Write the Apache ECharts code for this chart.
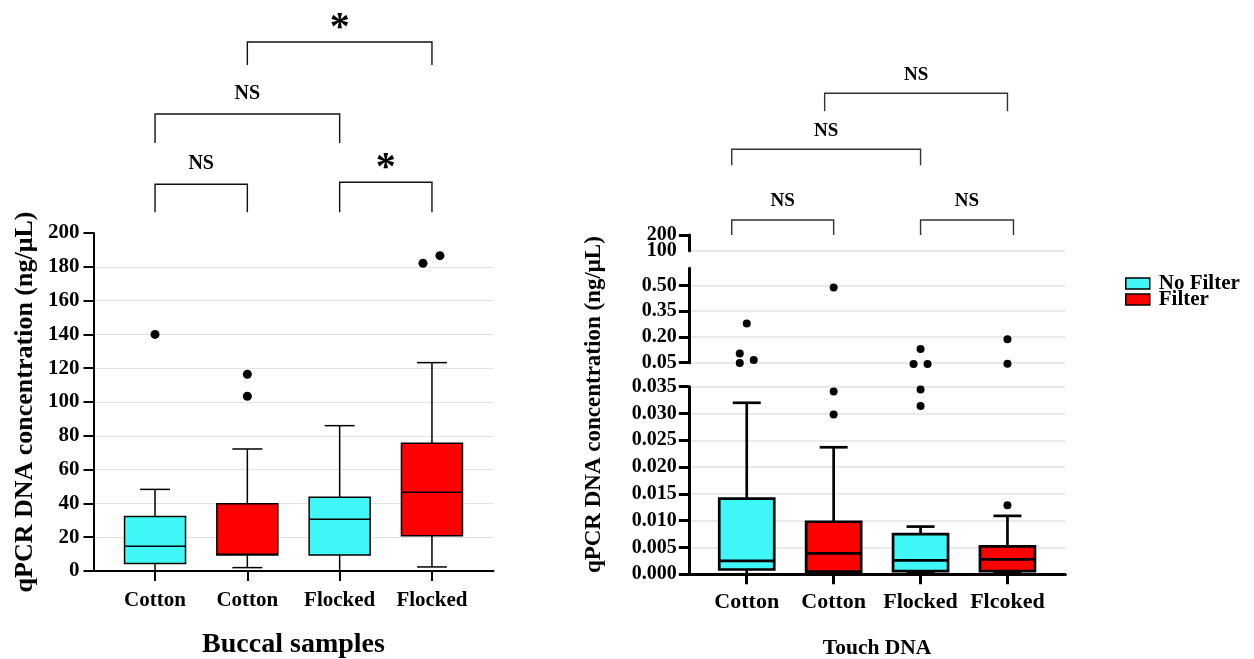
<!DOCTYPE html>
<html>
<head>
<meta charset="utf-8">
<script src="https://cdn.jsdelivr.net/npm/echarts@6/dist/echarts.min.js"></script>
<style>html,body{margin:0;padding:0;background:#fff}#c{width:1254px;height:659px}</style>
</head>
<body>
<div id="c"></div>
<script>
// ---------------- DATA ----------------
const buccalCategories = ['Cotton', 'Cotton', 'Flocked', 'Flocked'];
const touchCategories = ['Cotton', 'Cotton', 'Flocked', 'Flcoked'];
const groupFilter = ['No Filter', 'Filter', 'No Filter', 'Filter'];
// [min, Q1, median, Q3, max]
const buccalStats = [
  [0, 4.5, 14.6, 32.3, 48.3],
  [2.0, 9.5, 9.9, 39.8, 72.2],
  [0, 9.5, 30.6, 43.6, 86.0],
  [2.4, 20.9, 46.6, 75.6, 123.3]
];
const buccalOutliers = [[140], [116.4, 103.4], [], [182.1, 186.6]];
const touchStats = [
  [0, 0.0009, 0.0025, 0.0141, 0.032],
  [0, 0.0005, 0.0039, 0.0098, 0.0237],
  [0.0002, 0.0006, 0.0026, 0.0075, 0.0089],
  [0.0002, 0.0006, 0.0028, 0.0052, 0.0109]
];
const touchOutliers = [
  [0.279, 0.104, 0.0655, 0.048],
  [0.488, 0.0341, 0.0298],
  [0.130, 0.043, 0.043, 0.0345, 0.0314],
  [0.186, 0.044, 0.0129]
];
const buccalSignif = [
  {from: 1, to: 3, label: '*'},
  {from: 0, to: 2, label: 'NS'},
  {from: 0, to: 1, label: 'NS'},
  {from: 2, to: 3, label: '*'}
];
const touchSignif = [
  {from: 1, to: 3, label: 'NS'},
  {from: 0, to: 2, label: 'NS'},
  {from: 0, to: 1, label: 'NS'},
  {from: 2, to: 3, label: 'NS'}
];
const touchTopTicks = [100, 200];   // upper broken-axis segment
const touchBreakLow = 0.04; // values above this are drawn on the 0.05–0.6 segment

// ---------------- STYLE ----------------
const FONT = "'Liberation Serif', 'Times New Roman', serif";
const CYAN = '#3ff7f7', RED = '#ff0000';
const colorOf = g => g === 'Filter' ? RED : CYAN;
const buccalJitter = [[0], [0, 0], [], [-9, 8]];
const touchJitter = [[0, -7, 7, -7], [0, 0, 0], [0, -7, 7, 0, 0], [0, 0, 0]];
const SLOTS = 14;
const pos = i => 3 * i + 2;
function padCats(cats) {
  const a = new Array(SLOTS).fill('');
  cats.forEach((c, i) => a[pos(i)] = c);
  return a;
}
const isSlot = idx => idx % 3 === 2 && idx <= 11;

function boxRenderer(boxW, capW, lw, color) {
  return function (params, api) {
    const x = api.value(0);
    const p = [1, 2, 3, 4, 5].map(d => api.coord([x, api.value(d)]));
    const cx = p[0][0];
    const yMin = p[0][1], yQ1 = p[1][1], yMed = p[2][1], yQ3 = p[3][1], yMax = p[4][1];
    const h = boxW / 2, c = capW / 2;
    const ls = () => ({stroke: '#000', lineWidth: lw});
    return {type: 'group', children: [
      {type: 'line', shape: {x1: cx, y1: yQ3, x2: cx, y2: yMax}, style: ls()},
      {type: 'line', shape: {x1: cx, y1: yQ1, x2: cx, y2: yMin}, style: ls()},
      {type: 'line', shape: {x1: cx - c, y1: yMax, x2: cx + c, y2: yMax}, style: ls()},
      {type: 'line', shape: {x1: cx - c, y1: yMin, x2: cx + c, y2: yMin}, style: ls()},
      {type: 'rect', shape: {x: cx - h, y: yQ3, width: boxW, height: yQ1 - yQ3},
        style: {fill: color, stroke: '#000', lineWidth: lw}},
      {type: 'line', shape: {x1: cx - h, y1: yMed, x2: cx + h, y2: yMed}, style: ls()}
    ]};
  };
}

function boxSeries(stats, groupName, xi, yi, boxW, capW, lw) {
  const data = [];
  stats.forEach((s, i) => { if (groupFilter[i] === groupName) data.push([pos(i)].concat(s)); });
  return {
    type: 'custom', name: groupName, xAxisIndex: xi, yAxisIndex: yi,
    itemStyle: {color: colorOf(groupName), borderColor: '#000', borderWidth: 1.5},
    encode: {x: 0, y: [1, 2, 3, 4, 5]},
    renderItem: boxRenderer(boxW, capW, lw, colorOf(groupName)),
    data: data, z: 3
  };
}

function outlierSeries(outliers, jitter, filterFn, xi, yi, size) {
  const data = [];
  outliers.forEach((arr, i) => arr.forEach((v, k) => {
    if (filterFn(v)) data.push({value: [pos(i), v], symbolOffset: [jitter[i][k] || 0, 0]});
  }));
  return {type: 'scatter', name: 'outliers', xAxisIndex: xi, yAxisIndex: yi, symbolSize: size,
    itemStyle: {color: '#000', opacity: 1}, clip: false, data: data, z: 5, silent: true};
}

const gridBase = {containLabel: false, outerBoundsMode: 'none'};
const L = {left: 93.5, width: 400, top: 233, height: 338};
const R = {left: 688.8, width: 376.6};
const rightLabel = {margin: 12, color: '#000', fontSize: 20, fontWeight: 'bold', fontFamily: FONT,
  showMinLabel: true, showMaxLabel: true, hideOverlap: false};
const topRect = {left: R.left, width: R.width, top: 235, height: 15.7};

const option = {
  animation: false,
  backgroundColor: '#fff',
  textStyle: {fontFamily: FONT},
  grid: [
    Object.assign({}, gridBase, L),
    Object.assign({}, gridBase, {left: R.left, width: R.width, top: 386.7, height: 187.6}),
    Object.assign({}, gridBase, {left: R.left, width: R.width, top: 268.3, height: 94.4}),
    Object.assign({}, gridBase, topRect),
    Object.assign({}, gridBase, {left: R.left, width: R.width, top: 235, height: 339.3}),
    Object.assign({}, gridBase, topRect)
  ],
  xAxis: [
    {gridIndex: 0, type: 'category', boundaryGap: false, data: padCats(buccalCategories),
      axisLine: {lineStyle: {color: '#000', width: 2}},
      axisTick: {interval: isSlot, length: 10, lineStyle: {color: '#000', width: 2}},
      axisLabel: {interval: isSlot, margin: 19, color: '#000', fontSize: 21, fontWeight: 'bold', fontFamily: FONT},
      name: 'Buccal samples', nameLocation: 'middle', nameGap: 60,
      nameTextStyle: {color: '#000', fontSize: 28, fontWeight: 'bold', fontFamily: FONT},
      splitLine: {show: false}},
    {gridIndex: 1, type: 'category', boundaryGap: false, data: padCats(touchCategories),
      axisLine: {lineStyle: {color: '#000', width: 3}},
      axisTick: {interval: isSlot, length: 10, lineStyle: {color: '#000', width: 3}},
      axisLabel: {interval: isSlot, margin: 17, color: '#000', fontSize: 22, fontWeight: 'bold', fontFamily: FONT},
      name: 'Touch DNA', nameLocation: 'middle', nameGap: 63,
      nameTextStyle: {color: '#000', fontSize: 21.5, fontWeight: 'bold', fontFamily: FONT},
      splitLine: {show: false}},
    {gridIndex: 2, type: 'category', boundaryGap: false, data: padCats(touchCategories), show: false},
    {gridIndex: 3, type: 'category', boundaryGap: false, data: padCats(touchCategories), show: false},
    {gridIndex: 4, type: 'category', boundaryGap: false, data: padCats(touchCategories), show: false},
    {gridIndex: 5, type: 'category', boundaryGap: false, data: padCats(touchCategories), show: false}
  ],
  yAxis: [
    {gridIndex: 0, type: 'value', min: 0, max: 200, interval: 20,
      axisLine: {show: true, lineStyle: {color: '#000', width: 2}},
      axisTick: {show: true, length: 10, lineStyle: {color: '#000', width: 2}},
      axisLabel: {margin: 14, color: '#000', fontSize: 21, fontWeight: 'bold', fontFamily: FONT},
      splitLine: {show: true, showMaxLine: false, lineStyle: {color: '#e3e3e3', width: 1.2}},
      name: 'qPCR DNA concentration (ng/μL)', nameLocation: 'middle', nameGap: 55,
      nameTextStyle: {color: '#000', fontSize: 26, fontWeight: 'bold', fontFamily: FONT}},
    {gridIndex: 1, type: 'value', min: 0, max: 0.035, interval: 0.005,
      axisLine: {show: true, lineStyle: {color: '#000', width: 3}},
      axisTick: {show: true, length: 10, lineStyle: {color: '#000', width: 3}},
      axisLabel: Object.assign({}, rightLabel, {formatter: v => v.toFixed(3)}),
      splitLine: {show: true, lineStyle: {color: '#e3e3e3', width: 1.5}}},
    {gridIndex: 2, type: 'value', min: 0.05, max: 0.6, interval: 0.15,
      axisLine: {show: true, lineStyle: {color: '#000', width: 3}},
      axisTick: {show: true, length: 10, lineStyle: {color: '#000', width: 3}},
      axisLabel: Object.assign({}, rightLabel, {showMaxLabel: false, formatter: v => v.toFixed(2)}),
      splitLine: {show: true, showMaxLine: false, lineStyle: {color: '#e3e3e3', width: 1.5}}},
    // upper segment: line, ticks, gridline and the "200" label
    {gridIndex: 3, type: 'value', min: touchTopTicks[0], max: touchTopTicks[1], interval: touchTopTicks[1] - touchTopTicks[0],
      axisLine: {show: true, lineStyle: {color: '#000', width: 3}},
      axisTick: {show: true, length: 10, lineStyle: {color: '#000', width: 3}},
      axisLabel: Object.assign({}, rightLabel, {showMinLabel: false,
        formatter: v => v === touchTopTicks[1] ? String(v) : ''}),
      splitLine: {show: true, showMaxLine: false, lineStyle: {color: '#e3e3e3', width: 1.5}}},
    {gridIndex: 4, type: 'value', min: 0, max: 1,
      axisLine: {show: false}, axisTick: {show: false}, axisLabel: {show: false}, splitLine: {show: false},
      name: 'qPCR DNA concentration (ng/μL)', nameLocation: 'middle', nameGap: 83,
      nameTextStyle: {color: '#000', fontSize: 23, fontWeight: 'bold', fontFamily: FONT}},
    // upper segment: the "100" label
    {gridIndex: 5, type: 'value', min: touchTopTicks[0], max: touchTopTicks[1], interval: touchTopTicks[1] - touchTopTicks[0],
      axisLine: {show: false}, axisTick: {show: false}, splitLine: {show: false},
      axisLabel: Object.assign({}, rightLabel, {showMaxLabel: false,
        formatter: v => v === touchTopTicks[0] ? String(v) : ''})}
  ],
  legend: {
    data: ['No Filter', 'Filter'], orient: 'vertical', left: 1120, top: 268,
    icon: 'rect', itemWidth: 24, itemHeight: 11, itemGap: -5,
    itemStyle: {borderColor: '#000', borderWidth: 1.5},
    textStyle: {color: '#000', fontSize: 21, fontWeight: 'bold', fontFamily: FONT, padding: [0, 0, 0, 4]}
  },
  series: [
    boxSeries(buccalStats, 'No Filter', 0, 0, 61, 30, 1.5),
    boxSeries(buccalStats, 'Filter', 0, 0, 61, 30, 1.5),
    boxSeries(touchStats, 'No Filter', 1, 1, 55, 28, 2.7),
    boxSeries(touchStats, 'Filter', 1, 1, 55, 28, 2.7),
    outlierSeries(buccalOutliers, buccalJitter, v => true, 0, 0, 9),
    outlierSeries(touchOutliers, touchJitter, v => v < touchBreakLow, 1, 1, 8),
    outlierSeries(touchOutliers, touchJitter, v => v >= touchBreakLow, 2, 2, 8)
  ]
};

const chart = echarts.init(document.getElementById('c'), null, {renderer: 'canvas'});
chart.setOption(option);

// Significance brackets (annotations), x from category positions
const buccalBracketLayout = [
  {y: 42, drop: 23, labelY: 29, dx0: 0, dx1: 0, color: '#111', fs: 40},
  {y: 114, drop: 29, labelY: 94, dx0: 0, dx1: 0, color: '#111', fs: 20},
  {y: 184.3, drop: 28, labelY: 163.5, dx0: 0, dx1: 0, color: '#111', fs: 20},
  {y: 182.3, drop: 30, labelY: 169, dx0: 0, dx1: 0, color: '#111', fs: 40}
];
const touchBracketLayout = [
  {y: 93.3, drop: 18, labelY: 75, dx0: -9, dx1: 0, color: '#333', fs: 19},
  {y: 149.3, drop: 16, labelY: 131, dx0: -15, dx1: 0, color: '#333', fs: 19},
  {y: 220, drop: 15, labelY: 200.7, dx0: -15, dx1: 0, color: '#333', fs: 19},
  {y: 220, drop: 15, labelY: 200.7, dx0: 0, dx1: 6, color: '#333', fs: 19}
];
const graphics = [];
function addBrackets(spec, layout, xi) {
  spec.forEach((s, k) => {
    const lay = layout[k];
    const x0 = chart.convertToPixel({xAxisIndex: xi}, pos(s.from)) + lay.dx0;
    const x1 = chart.convertToPixel({xAxisIndex: xi}, pos(s.to)) + lay.dx1;
    graphics.push({type: 'polyline', silent: true,
      shape: {points: [[x0, lay.y + lay.drop], [x0, lay.y], [x1, lay.y], [x1, lay.y + lay.drop]]},
      style: {stroke: lay.color, lineWidth: 1.4, fill: null}});
    graphics.push({type: 'text', silent: true, x: (x0 + x1) / 2, y: lay.labelY,
      style: {text: s.label, fill: '#000', font: 'bold ' + lay.fs + 'px ' + FONT, align: 'center', verticalAlign: 'middle'}});
  });
}
addBrackets(buccalSignif, buccalBracketLayout, 0);
addBrackets(touchSignif, touchBracketLayout, 1);
chart.setOption({graphic: graphics});
</script>
</body>
</html>
